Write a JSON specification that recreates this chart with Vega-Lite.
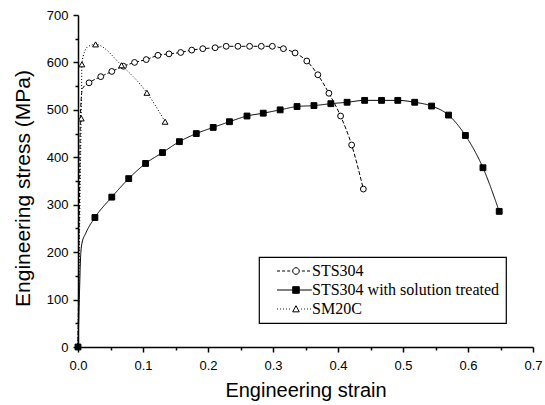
{
  "$schema": "https://vega.github.io/schema/vega-lite/v6.json",
  "width": 455,
  "height": 332,
  "autosize": {"type": "none"},
  "padding": {"left": 78, "top": 15, "right": 12, "bottom": 58},
  "background": "white",
  "config": {
    "view": {"stroke": null},
    "axis": {
      "grid": false,
      "domainColor": "black",
      "domainWidth": 1.5,
      "tickColor": "black",
      "tickWidth": 1.5,
      "labelColor": "black",
      "titleColor": "black",
      "labelFont": "Liberation Sans",
      "titleFont": "Liberation Sans",
      "labelFontSize": 13,
      "titleFontSize": 20,
      "titleFontWeight": "normal",
      "labelFlush": false,
      "labelOverlap": false
    },
    "legend": {
      "labelFont": "Liberation Serif",
      "labelFontSize": 16,
      "labelColor": "black",
      "labelLimit": 0,
      "padding": 6,
      "rowPadding": 3,
      "strokeColor": "black",
      "strokeWidth": 1.2,
      "fillColor": "white",
      "symbolOffset": 7,
      "labelOffset": 24
    }
  },
  "data": {
    "values": [
      {"series": "STS304", "strain": 0.0, "stress": 0, "recorded": false},
      {"series": "STS304", "strain": 0.002, "stress": 280, "recorded": false},
      {"series": "STS304", "strain": 0.004, "stress": 500, "recorded": false},
      {"series": "STS304", "strain": 0.007, "stress": 545, "recorded": false},
      {"series": "STS304", "strain": 0.017, "stress": 557, "recorded": true},
      {"series": "STS304", "strain": 0.035, "stress": 570, "recorded": true},
      {"series": "STS304", "strain": 0.052, "stress": 581, "recorded": true},
      {"series": "STS304", "strain": 0.070, "stress": 592, "recorded": true},
      {"series": "STS304", "strain": 0.087, "stress": 600, "recorded": true},
      {"series": "STS304", "strain": 0.105, "stress": 606, "recorded": true},
      {"series": "STS304", "strain": 0.123, "stress": 615, "recorded": true},
      {"series": "STS304", "strain": 0.140, "stress": 618, "recorded": true},
      {"series": "STS304", "strain": 0.158, "stress": 621, "recorded": true},
      {"series": "STS304", "strain": 0.175, "stress": 626, "recorded": true},
      {"series": "STS304", "strain": 0.192, "stress": 629, "recorded": true},
      {"series": "STS304", "strain": 0.211, "stress": 631, "recorded": true},
      {"series": "STS304", "strain": 0.228, "stress": 634, "recorded": true},
      {"series": "STS304", "strain": 0.246, "stress": 634, "recorded": true},
      {"series": "STS304", "strain": 0.264, "stress": 634, "recorded": true},
      {"series": "STS304", "strain": 0.282, "stress": 634, "recorded": true},
      {"series": "STS304", "strain": 0.299, "stress": 634, "recorded": true},
      {"series": "STS304", "strain": 0.316, "stress": 629, "recorded": true},
      {"series": "STS304", "strain": 0.334, "stress": 620, "recorded": true},
      {"series": "STS304", "strain": 0.352, "stress": 603, "recorded": true},
      {"series": "STS304", "strain": 0.369, "stress": 574, "recorded": true},
      {"series": "STS304", "strain": 0.386, "stress": 535, "recorded": true},
      {"series": "STS304", "strain": 0.404, "stress": 487, "recorded": true},
      {"series": "STS304", "strain": 0.421, "stress": 426, "recorded": true},
      {"series": "STS304", "strain": 0.439, "stress": 333, "recorded": true},

      {"series": "STS304 with solution treated", "strain": 0.0, "stress": 0, "recorded": true},
      {"series": "STS304 with solution treated", "strain": 0.002, "stress": 100, "recorded": false},
      {"series": "STS304 with solution treated", "strain": 0.004, "stress": 190, "recorded": false},
      {"series": "STS304 with solution treated", "strain": 0.006, "stress": 218, "recorded": false},
      {"series": "STS304 with solution treated", "strain": 0.012, "stress": 240, "recorded": false},
      {"series": "STS304 with solution treated", "strain": 0.026, "stress": 273, "recorded": true},
      {"series": "STS304 with solution treated", "strain": 0.052, "stress": 316, "recorded": true},
      {"series": "STS304 with solution treated", "strain": 0.078, "stress": 355, "recorded": true},
      {"series": "STS304 with solution treated", "strain": 0.104, "stress": 387, "recorded": true},
      {"series": "STS304 with solution treated", "strain": 0.130, "stress": 410, "recorded": true},
      {"series": "STS304 with solution treated", "strain": 0.156, "stress": 433, "recorded": true},
      {"series": "STS304 with solution treated", "strain": 0.182, "stress": 450, "recorded": true},
      {"series": "STS304 with solution treated", "strain": 0.208, "stress": 463, "recorded": true},
      {"series": "STS304 with solution treated", "strain": 0.233, "stress": 475, "recorded": true},
      {"series": "STS304 with solution treated", "strain": 0.260, "stress": 487, "recorded": true},
      {"series": "STS304 with solution treated", "strain": 0.285, "stress": 493, "recorded": true},
      {"series": "STS304 with solution treated", "strain": 0.311, "stress": 500, "recorded": true},
      {"series": "STS304 with solution treated", "strain": 0.337, "stress": 507, "recorded": true},
      {"series": "STS304 with solution treated", "strain": 0.363, "stress": 509, "recorded": true},
      {"series": "STS304 with solution treated", "strain": 0.389, "stress": 513, "recorded": true},
      {"series": "STS304 with solution treated", "strain": 0.414, "stress": 516, "recorded": true},
      {"series": "STS304 with solution treated", "strain": 0.441, "stress": 520, "recorded": true},
      {"series": "STS304 with solution treated", "strain": 0.467, "stress": 520, "recorded": true},
      {"series": "STS304 with solution treated", "strain": 0.492, "stress": 520, "recorded": true},
      {"series": "STS304 with solution treated", "strain": 0.518, "stress": 516, "recorded": true},
      {"series": "STS304 with solution treated", "strain": 0.544, "stress": 508, "recorded": true},
      {"series": "STS304 with solution treated", "strain": 0.570, "stress": 489, "recorded": true},
      {"series": "STS304 with solution treated", "strain": 0.596, "stress": 446, "recorded": true},
      {"series": "STS304 with solution treated", "strain": 0.623, "stress": 378, "recorded": true},
      {"series": "STS304 with solution treated", "strain": 0.648, "stress": 286, "recorded": true},

      {"series": "SM20C", "strain": 0.0, "stress": 0, "recorded": false},
      {"series": "SM20C", "strain": 0.002, "stress": 200, "recorded": false},
      {"series": "SM20C", "strain": 0.004, "stress": 400, "recorded": false},
      {"series": "SM20C", "strain": 0.005, "stress": 482, "recorded": true},
      {"series": "SM20C", "strain": 0.006, "stress": 596, "recorded": true},
      {"series": "SM20C", "strain": 0.010, "stress": 622, "recorded": false},
      {"series": "SM20C", "strain": 0.016, "stress": 634, "recorded": false},
      {"series": "SM20C", "strain": 0.027, "stress": 638, "recorded": true},
      {"series": "SM20C", "strain": 0.067, "stress": 594, "recorded": true},
      {"series": "SM20C", "strain": 0.106, "stress": 536, "recorded": true},
      {"series": "SM20C", "strain": 0.134, "stress": 475, "recorded": true}
    ]
  },
  "layer": [
    {
      "mark": {"type": "line", "color": "black", "strokeWidth": 1, "interpolate": "monotone"},
      "encoding": {
        "x": {
          "field": "strain",
          "type": "quantitative",
          "scale": {"domain": [0, 0.7], "nice": false, "zero": false},
          "axis": {
            "values": [0, 0.1, 0.2, 0.3, 0.4, 0.5, 0.6, 0.7],
            "format": ".1f",
            "tickSize": 5,
            "labelPadding": 7,
            "title": "Engineering strain",
            "titleX": 227.5,
            "titleY": 49,
            "titleBaseline": "alphabetic"
          }
        },
        "y": {
          "field": "stress",
          "type": "quantitative",
          "scale": {"domain": [0, 700], "nice": false},
          "axis": {
            "values": [0, 100, 200, 300, 400, 500, 600, 700],
            "tickSize": 5,
            "labelPadding": 5,
            "title": "Engineering stress (MPa)",
            "titleFontSize": 21,
            "titleX": -49,
            "titleY": 173,
            "titleBaseline": "alphabetic"
          }
        },
        "detail": {"field": "series", "type": "nominal"},
        "strokeDash": {
          "condition": [
            {"test": "datum.series === 'STS304'", "value": [4, 2]},
            {"test": "datum.series === 'SM20C'", "value": [1, 2]}
          ],
          "value": [1, 0]
        }
      }
    },
    {
      "transform": [{"filter": "datum.recorded"}],
      "mark": {"type": "point", "filled": true, "stroke": "black", "strokeWidth": 1, "size": 34, "opacity": 1},
      "encoding": {
        "x": {
          "field": "strain",
          "type": "quantitative",
          "axis": {
            "orient": "bottom",
            "values": [0.05, 0.15, 0.25, 0.35, 0.45, 0.55, 0.65],
            "labels": false,
            "domain": false,
            "tickSize": 3,
            "title": null
          }
        },
        "y": {
          "field": "stress",
          "type": "quantitative",
          "axis": {
            "orient": "left",
            "values": [50, 150, 250, 350, 450, 550, 650],
            "labels": false,
            "domain": false,
            "tickSize": 3,
            "title": null
          }
        },
        "fill": {
          "condition": {"test": "datum.series === 'STS304 with solution treated'", "value": "black"},
          "value": "white"
        },
        "shape": {
          "condition": [
            {"test": "datum.series === 'STS304'", "value": "circle"},
            {"test": "datum.series === 'SM20C'", "value": "triangle-up"}
          ],
          "value": "square"
        }
      }
    },
    {
      "transform": [{"filter": "datum.recorded && datum.strain > 1"}],
      "mark": {"type": "point", "filled": true, "strokeWidth": 1, "size": 36, "opacity": 1},
      "encoding": {
        "x": {"field": "strain", "type": "quantitative", "axis": null},
        "y": {"field": "stress", "type": "quantitative", "axis": null},
        "fill": {
          "field": "series",
          "type": "nominal",
          "scale": {
            "domain": ["STS304", "STS304 with solution treated", "SM20C"],
            "range": ["white", "black", "white"]
          },
          "legend": {
            "title": null,
            "orient": "none",
            "legendX": 181,
            "legendY": 242,
            "symbolSize": 36,
            "symbolOpacity": 1,
            "symbolStrokeColor": "black",
            "symbolStrokeWidth": 1
          }
        },
        "stroke": {
          "field": "series",
          "type": "nominal",
          "scale": {
            "domain": ["STS304", "STS304 with solution treated", "SM20C"],
            "range": ["black", "black", "black"]
          },
          "legend": {
            "title": null,
            "orient": "none",
            "legendX": 181,
            "legendY": 242,
            "symbolSize": 36,
            "symbolOpacity": 1,
            "symbolStrokeColor": "black",
            "symbolStrokeWidth": 1
          }
        },
        "shape": {
          "field": "series",
          "type": "nominal",
          "scale": {
            "domain": ["STS304", "STS304 with solution treated", "SM20C"],
            "range": [
              "M-1,0H0M0.7,0H1.7M2.4,0H3.4M6.43,0A1.1,1.1,0,1,0,4.23,0A1.1,1.1,0,1,0,6.43,0M7.3,0H8.3M9,0H10",
              "M-1,0H4.23M6.43,0H10.6M4.23,-1.1H6.43V1.1H4.23Z",
              "M-1,0h0.3M0,0h0.3M1,0h0.3M2,0h0.3M3,0h0.3M4.23,0.95L5.33,-1.1L6.43,0.95ZM7,0h0.3M8,0h0.3M9,0h0.3M10,0h0.3"
            ]
          },
          "legend": {
            "title": null,
            "orient": "none",
            "legendX": 181,
            "legendY": 242,
            "symbolSize": 36,
            "symbolOpacity": 1,
            "symbolStrokeColor": "black",
            "symbolStrokeWidth": 1
          }
        }
      }
    }
  ],
  "resolve": {
    "axis": {"x": "independent", "y": "independent"}
  }
}
